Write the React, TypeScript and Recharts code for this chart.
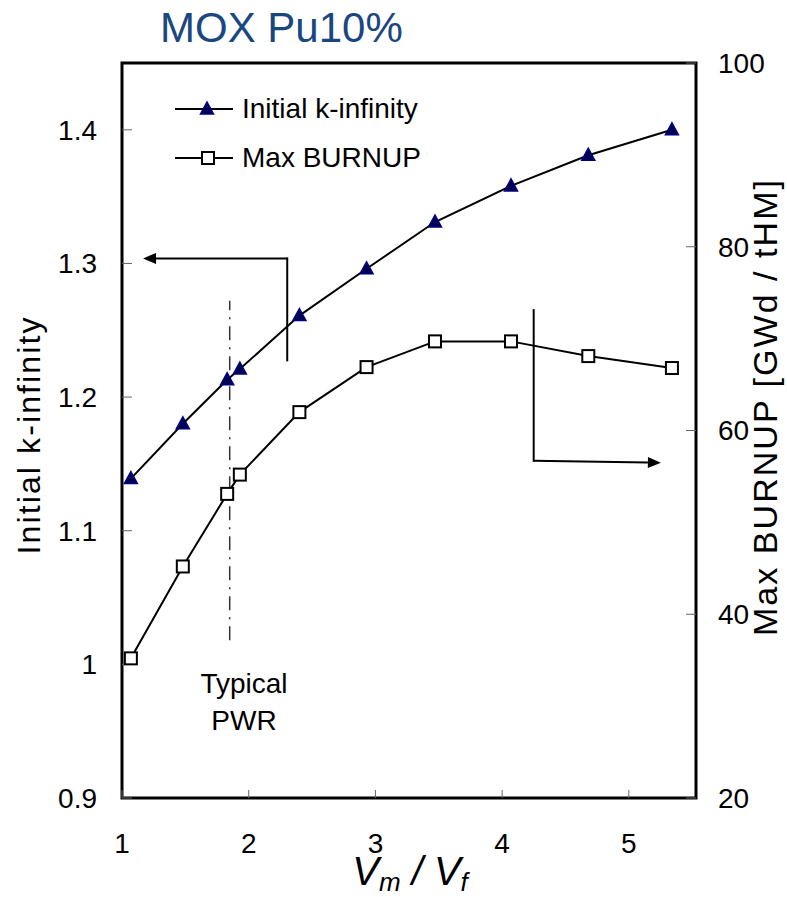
import React from 'react';
import { LineChart, Line, XAxis, YAxis, ReferenceLine, ReferenceArea, Legend } from 'recharts';

// ---- data ----
const vmVf = [1.07, 1.48, 1.83, 1.93, 2.4, 2.93, 3.47, 4.07, 4.68, 5.34];
const kInfinity = [1.139, 1.18, 1.213, 1.221, 1.261, 1.296, 1.331, 1.358, 1.381, 1.4];
const maxBurnup = [35.2, 45.2, 53.1, 55.2, 62.0, 66.9, 69.7, 69.7, 68.1, 66.8];

const xTicks = [1, 2, 3, 4, 5];
const leftTicks = [0.9, 1, 1.1, 1.2, 1.3, 1.4];
const rightTicks = [20, 40, 60, 80, 100];
const xDomain = [1, 5.53];
const leftDomain = [0.9, 1.45];
const rightDomain = [20, 100];

const seriesNames = { k: 'Initial k-infinity', b: 'Max BURNUP' };

// annotations (data units)
const typicalPwrX = 1.85;
const typicalPwrY = [1.018, 1.272];
const leftArrowCorner = { x: 2.304, y: 1.3038 };
const leftArrowStartY = 1.2275;
const leftArrowTipX = 1.166;
const rightArrowCorner = { x: 4.249, y: 56.7 };
const rightArrowStartY = 73.1;
const rightArrowTip = { x: 5.253, y: 56.5 };

const data = vmVf.map((x, i) => ({ x, k: kInfinity[i], b: maxBurnup[i] }));

const FONT = "'Liberation Sans', Arial, Helvetica, sans-serif";
const NAVY = '#000080';

const TriDot = (p: any) => {
  const { cx, cy } = p;
  if (cx == null || cy == null) return <g />;
  return (
    <path
      d={`M${cx},${cy - 7} L${cx - 6.5},${cy + 5} L${cx + 6.5},${cy + 5} Z`}
      fill="#000050"
      stroke={NAVY}
      strokeWidth={1.5}
    />
  );
};

const SquareDot = (p: any) => {
  const { cx, cy } = p;
  if (cx == null || cy == null) return <g />;
  return <rect x={cx - 6} y={cy - 6} width={12} height={12} fill="#fff" stroke="#000" strokeWidth={2} />;
};

const ArrowShape = (props: any) => {
  const { x1, y1, x2, y2 } = props;
  const ang = Math.atan2(y2 - y1, x2 - x1);
  const L = 13;
  const W = 5.5;
  const bx = x2 - L * Math.cos(ang);
  const by = y2 - L * Math.sin(ang);
  const px = -Math.sin(ang) * W;
  const py = Math.cos(ang) * W;
  return (
    <g>
      <line x1={x1} y1={y1} x2={bx} y2={by} stroke="#000" strokeWidth={2} />
      <polygon points={`${x2},${y2} ${bx + px},${by + py} ${bx - px},${by - py}`} fill="#000" />
    </g>
  );
};

const PlainShape = (props: any) => {
  const { x1, y1, x2, y2 } = props;
  return <line x1={x1} y1={y1} x2={x2} y2={y2} stroke="#000" strokeWidth={2} strokeLinecap="square" />;
};

const LegendContent = () => {
  const row = (key: 'k' | 'b') => (
    <div key={key} style={{ display: 'flex', alignItems: 'center', height: 49 }}>
      <svg width={60} height={30} style={{ display: 'block' }}>
        <line x1={0} y1={15} x2={58} y2={15} stroke="#000" strokeWidth={2} />
        {key === 'k' ? <TriDot cx={32} cy={15} /> : <SquareDot cx={33} cy={15} />}
      </svg>
      <span style={{ marginLeft: 7, fontSize: 28, fontFamily: FONT, color: '#000', whiteSpace: 'nowrap' }}>
        {seriesNames[key]}
      </span>
    </div>
  );
  return (
    <div>
      {row('k')}
      {row('b')}
    </div>
  );
};

export default function App() {
  return (
    <div style={{ position: 'absolute', left: 0, top: 0, width: 787, height: 897, background: '#fff' }}>
      <LineChart
        width={787}
        height={897}
        data={data}
        margin={{ top: 63, right: 11, bottom: 9, left: 22 }}
      >
        <XAxis
          type="number"
          dataKey="x"
          domain={xDomain}
          ticks={xTicks}
          allowDataOverflow
          interval={0}
          height={90}
          axisLine={false}
          tickSize={-8}
          tickMargin={43}
          tickLine={{ stroke: '#666', strokeWidth: 1 }}
          tick={{ fill: '#000', fontSize: 28, fontFamily: FONT }}
        />
        <YAxis
          yAxisId="left"
          orientation="left"
          domain={leftDomain}
          ticks={leftTicks}
          allowDataOverflow
          interval={0}
          width={100}
          axisLine={false}
          tickSize={-10}
          tickMargin={35}
          tickLine={{ stroke: '#666', strokeWidth: 1 }}
          tick={{ fill: '#000', fontSize: 28, fontFamily: FONT }}
          tickFormatter={(v: number) => String(v)}
        />
        <YAxis
          yAxisId="right"
          orientation="right"
          domain={rightDomain}
          ticks={rightTicks}
          allowDataOverflow
          interval={0}
          width={80}
          axisLine={false}
          tickSize={-10}
          tickMargin={32}
          tickLine={{ stroke: '#666', strokeWidth: 1 }}
          tick={{ fill: '#000', fontSize: 28, fontFamily: FONT }}
        />
        <ReferenceArea
          yAxisId="left"
          x1={xDomain[0]}
          x2={xDomain[1]}
          y1={leftDomain[0]}
          y2={leftDomain[1]}
          fill="none"
          fillOpacity={0}
          stroke="#000"
          strokeWidth={3}
          ifOverflow="visible"
        />
        <ReferenceLine
          yAxisId="left"
          segment={[
            { x: typicalPwrX, y: typicalPwrY[0] },
            { x: typicalPwrX, y: typicalPwrY[1] },
          ]}
          stroke="#333"
          strokeWidth={1.5}
          strokeDasharray="14 7 2 7"
        />
        <ReferenceLine
          yAxisId="left"
          segment={[
            { x: leftArrowCorner.x, y: leftArrowStartY },
            { x: leftArrowCorner.x, y: leftArrowCorner.y },
          ]}
          shape={PlainShape}
        />
        <ReferenceLine
          yAxisId="left"
          segment={[
            { x: leftArrowCorner.x, y: leftArrowCorner.y },
            { x: leftArrowTipX, y: leftArrowCorner.y },
          ]}
          shape={ArrowShape}
        />
        <ReferenceLine
          yAxisId="right"
          segment={[
            { x: rightArrowCorner.x, y: rightArrowStartY },
            { x: rightArrowCorner.x, y: rightArrowCorner.y },
          ]}
          shape={PlainShape}
        />
        <ReferenceLine
          yAxisId="right"
          segment={[
            { x: rightArrowCorner.x, y: rightArrowCorner.y },
            { x: rightArrowTip.x, y: rightArrowTip.y },
          ]}
          shape={ArrowShape}
        />
        <Line
          yAxisId="left"
          type="linear"
          dataKey="k"
          name={seriesNames.k}
          stroke="#000"
          strokeWidth={2}
          dot={(p: any) => <TriDot key={`t${p.index}`} {...p} />}
          activeDot={false}
          isAnimationActive={false}
        />
        <Line
          yAxisId="right"
          type="linear"
          dataKey="b"
          name={seriesNames.b}
          stroke="#000"
          strokeWidth={2}
          dot={(p: any) => <SquareDot key={`s${p.index}`} {...p} />}
          activeDot={false}
          isAnimationActive={false}
        />
        <Legend
          layout="vertical"
          align="center"
          verticalAlign="middle"
          content={LegendContent}
          wrapperStyle={{ position: 'absolute', left: 175, top: 84, width: 320, height: 98, margin: 0 }}
        />
      </LineChart>
      <svg
        width={787}
        height={897}
        style={{ position: 'absolute', left: 0, top: 0, pointerEvents: 'none' }}
      >
        <text x={160} y={42} fontSize={42} fontFamily={FONT} fill="#1A4780">
          MOX Pu10%
        </text>
        <text
          transform="translate(40,436) rotate(-90)"
          textAnchor="middle"
          fontSize={32}
          fontFamily={FONT}
          fill="#000"
          textLength={237}
          lengthAdjust="spacing"
        >
          Initial k-infinity
        </text>
        <text
          transform="translate(777,408) rotate(-90)"
          textAnchor="middle"
          fontSize={34}
          fontFamily={FONT}
          fill="#000"
          textLength={456}
          lengthAdjust="spacing"
        >
          Max BURNUP [GWd / tHM]
        </text>
        <text x={410} y={885} textAnchor="middle" fontFamily={FONT} fontStyle="italic" fill="#000">
          <tspan fontSize={40}>V</tspan>
          <tspan fontSize={26} dy={6}>m</tspan>
          <tspan fontSize={40} dy={-6}> / V</tspan>
          <tspan fontSize={26} dy={6}>f</tspan>
        </text>
        <text x={244} y={693} textAnchor="middle" fontSize={28} fontFamily={FONT} fill="#000">
          Typical
        </text>
        <text x={244} y={730} textAnchor="middle" fontSize={28} fontFamily={FONT} fill="#000">
          PWR
        </text>
      </svg>
    </div>
  );
}
